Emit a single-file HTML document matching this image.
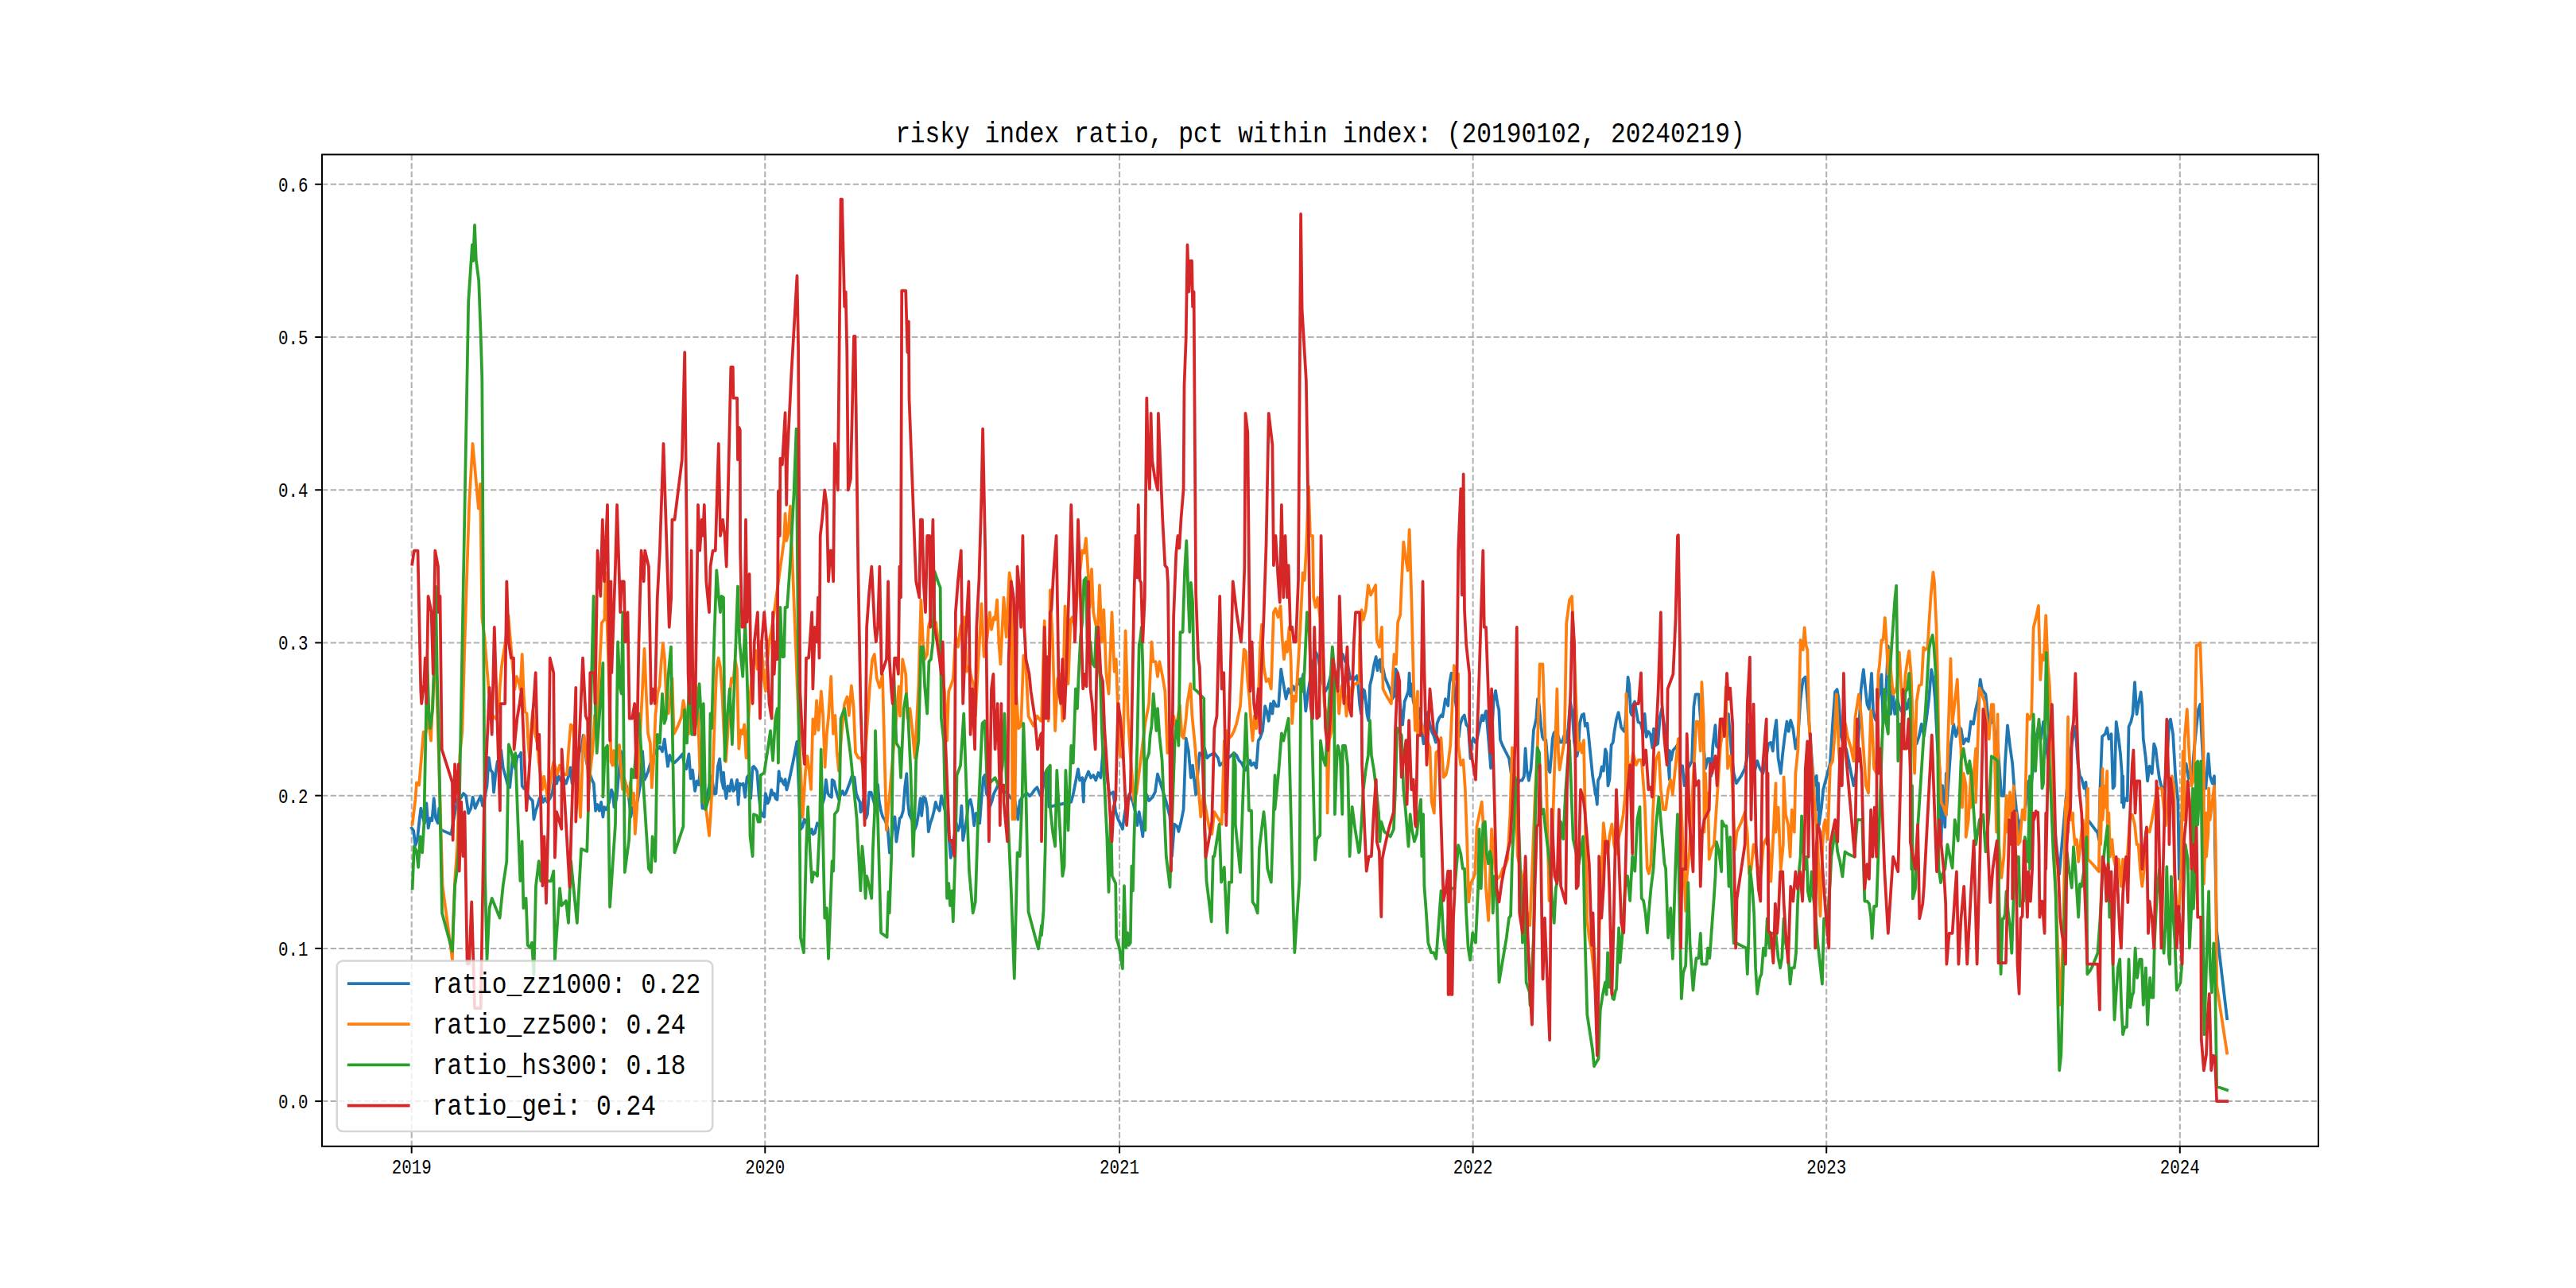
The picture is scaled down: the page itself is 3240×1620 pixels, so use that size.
<!DOCTYPE html><html><head><meta charset="utf-8"><title>risky index ratio</title><style>html,body{margin:0;padding:0;background:#fff;overflow:hidden;width:3240px;height:1620px;}svg{display:block}</style></head><body>
<svg width="3240" height="1620" viewBox="0 0 3240 1620">
<rect x="0" y="0" width="3240" height="1620" fill="#fff"/>
<defs><clipPath id="ax"><rect x="405.0" y="194.4" width="2511.0" height="1247.3999999999999"/></clipPath></defs>
<g stroke="#b0b0b0" stroke-width="2" stroke-dasharray="7.4 3.2" fill="none"><line x1="517.70" y1="194.4" x2="517.70" y2="1441.8"/><line x1="962.27" y1="194.4" x2="962.27" y2="1441.8"/><line x1="1408.07" y1="194.4" x2="1408.07" y2="1441.8"/><line x1="1852.64" y1="194.4" x2="1852.64" y2="1441.8"/><line x1="2297.21" y1="194.4" x2="2297.21" y2="1441.8"/><line x1="2741.79" y1="194.4" x2="2741.79" y2="1441.8"/><line x1="405.0" y1="1385.10" x2="2916.0" y2="1385.10"/><line x1="405.0" y1="1192.88" x2="2916.0" y2="1192.88"/><line x1="405.0" y1="1000.66" x2="2916.0" y2="1000.66"/><line x1="405.0" y1="808.44" x2="2916.0" y2="808.44"/><line x1="405.0" y1="616.22" x2="2916.0" y2="616.22"/><line x1="405.0" y1="424.00" x2="2916.0" y2="424.00"/><line x1="405.0" y1="231.78" x2="2916.0" y2="231.78"/></g>
<g clip-path="url(#ax)" fill="none" stroke-width="3.75" stroke-linejoin="round" stroke-linecap="square">
<polyline stroke="#1f77b4" points="517.8,1041.5 520.1,1044.6 522.4,1063.2 524.8,1057.0 527.1,1035.3 529.4,1016.6 531.7,1027.5 534.1,1035.3 536.4,1010.4 538.7,1041.5 541.1,1029.1 543.4,1032.2 545.7,1004.2 548.0,1029.1 550.7,1035.3 552.2,1016.6 554.3,1043.0 556.6,1044.6 567.5,1049.3 569.8,1035.3 572.1,1022.9 574.4,1012.0 576.8,1001.1 579.1,1004.2 583.0,998.0 586.1,1001.1 589.2,1022.9 592.3,1016.6 594.6,1002.7 597.7,1016.6 601.6,1007.3 604.7,1001.1 607.0,1013.5 609.4,1004.2 612.5,988.7 614.8,953.0 617.1,968.5 619.5,971.6 621.0,996.5 623.4,973.2 625.7,957.6 628.0,967.0 630.3,943.7 632.7,965.4 636.6,979.4 638.9,988.7 641.2,990.2 643.5,967.0 645.1,949.9 646.6,959.2 648.2,967.0 650.5,951.4 652.9,951.4 655.2,946.8 656.7,988.7 659.1,991.8 661.4,987.1 663.7,999.6 666.8,1004.2 669.9,1007.3 671.5,1030.6 673.8,1019.8 676.1,1013.5 678.5,1004.2 680.8,1001.1 683.1,1008.9 685.5,1004.2 688.6,1008.9 691.7,1004.2 694.8,996.5 697.9,974.7 700.2,985.6 702.5,976.3 705.7,982.5 708.8,979.4 711.9,985.6 715.0,976.3 717.3,965.4 719.6,985.6 722.7,976.3 725.8,967.0 728.9,945.2 731.3,943.7 733.6,925.0 735.2,931.2 737.5,957.6 739.8,967.0 742.1,973.2 744.5,980.9 746.8,985.6 749.1,1019.8 751.5,1012.0 753.8,1019.8 756.1,1008.9 758.4,1027.5 760.0,1015.1 762.3,1018.2 764.7,1013.5 766.2,1008.9 769.0,993.4 770.9,998.0 772.4,1015.1 775.5,1004.2 778.6,970.1 781.0,945.2 783.3,973.2 785.6,982.5 788.0,988.7 791.1,1004.2 793.4,1027.5 795.7,1015.1 798.8,1015.1 801.9,1007.3 805.0,988.7 808.1,945.2 810.5,980.9 812.8,976.3 815.1,970.1 817.5,962.3 820.6,953.0 823.7,946.8 826.8,942.1 829.9,939.0 833.0,945.2 835.8,929.7 837.6,945.2 840.0,963.9 842.3,949.9 845.4,957.6 848.5,959.2 851.6,956.1 854.7,953.0 858.6,948.3 860.9,963.9 863.3,967.0 866.4,948.3 868.7,979.4 871.0,968.5 874.1,994.9 876.5,982.5 878.8,987.1 881.1,963.9 883.4,1016.6 885.8,1016.6 888.9,1001.1 892.0,988.7 895.1,976.3 898.2,998.0 900.5,998.0 902.9,963.9 905.2,954.5 907.5,980.9 910.0,991.8 910.0,971.6 911.6,991.8 913.4,1004.2 915.4,988.7 917.8,994.9 920.1,980.9 922.4,994.9 924.8,991.8 927.1,980.9 928.6,1012.0 930.2,985.6 932.5,987.1 934.8,985.6 937.2,1002.7 939.5,977.8 941.8,974.7 944.2,1004.2 946.5,965.4 948.0,963.9 950.4,967.0 952.2,970.1 954.3,998.0 956.6,1019.8 958.9,1026.0 961.2,1027.5 962.8,998.0 964.3,1002.7 965.6,1010.4 967.8,1005.8 970.2,993.4 972.1,999.6 974.0,998.0 975.5,1004.2 977.5,1005.8 979.6,970.1 981.1,982.5 982.7,979.4 984.5,984.0 986.4,987.1 987.6,980.2 989.5,993.4 992.3,982.5 997.0,960.7 1002.4,932.8 1004.7,991.8 1007.0,1043.0 1009.4,1039.9 1011.7,1030.6 1014.0,1033.7 1017.1,1041.5 1019.5,1047.7 1021.0,1043.0 1022.6,1049.3 1024.9,1047.7 1028.0,1035.3 1031.1,1038.4 1034.2,1012.0 1036.6,1004.2 1038.9,980.9 1041.2,998.0 1043.5,1001.1 1045.9,1002.7 1046.6,980.9 1049.0,982.5 1051.3,993.4 1053.6,1001.1 1055.2,1005.8 1057.5,998.0 1059.8,994.9 1061.4,999.6 1063.7,998.0 1066.1,991.8 1068.4,985.6 1071.5,976.3 1074.6,977.8 1076.9,998.0 1079.3,1004.2 1081.6,1008.9 1082.4,1021.3 1083.9,1019.8 1086.2,1004.2 1089.3,1029.1 1090.9,1024.4 1093.2,996.5 1095.6,996.5 1097.9,1004.2 1100.2,1012.0 1102.5,991.8 1104.1,987.1 1105.7,1007.3 1108.0,1019.8 1110.3,1027.5 1113.4,1032.2 1116.5,1041.5 1118.9,1072.5 1121.2,1055.5 1123.5,1035.3 1125.5,1027.5 1127.4,1058.6 1129.7,1043.0 1131.7,1029.1 1133.6,1027.5 1135.9,1019.8 1138.3,988.7 1140.3,973.2 1142.1,1010.4 1143.7,1024.4 1146.0,1029.1 1148.4,1035.3 1150.7,1043.0 1153.0,1036.8 1155.3,1022.9 1157.7,1004.2 1159.2,1026.0 1161.6,1002.7 1163.9,1004.2 1166.2,1016.6 1167.8,1046.1 1170.1,1035.3 1172.4,1029.1 1174.8,1019.8 1176.8,1008.9 1178.6,1015.1 1181.7,1019.8 1184.1,1001.1 1186.4,1010.4 1188.7,1019.8 1191.1,1027.5 1193.4,1050.8 1195.7,1078.8 1198.0,1066.3 1200.4,1050.8 1202.7,1035.3 1205.0,1044.6 1207.4,1038.4 1209.4,1013.5 1211.2,1057.0 1213.6,1043.0 1215.9,1029.1 1218.2,1008.9 1220.6,1005.8 1222.9,1016.6 1225.2,1038.4 1227.5,1022.9 1229.9,1024.4 1232.2,1035.3 1234.5,1004.2 1236.9,977.8 1238.9,974.7 1240.7,998.0 1243.1,1002.7 1245.4,1013.5 1247.7,1007.3 1250.1,998.0 1253.2,991.8 1256.3,985.6 1259.4,988.7 1262.5,994.9 1267.1,998.0 1271.8,1004.2 1276.5,1007.3 1280.3,1030.6 1282.7,1007.3 1285.8,1002.7 1288.9,999.6 1292.0,998.0 1295.1,1001.1 1298.2,998.0 1301.3,993.4 1304.4,990.2 1307.5,998.0 1310.0,1002.7 1314.7,972.0 1317.8,967.3 1319.3,1014.8 1347.3,1008.6 1350.4,996.2 1356.0,967.3 1358.1,981.3 1361.2,978.2 1362.8,1008.6 1363.4,984.4 1369.0,970.4 1372.1,978.2 1375.2,975.1 1378.3,981.3 1381.4,972.0 1384.5,978.2 1387.6,942.5 1395.4,999.3 1400.1,996.2 1403.2,1021.1 1406.3,1030.4 1409.4,1036.6 1411.9,1042.8 1414.0,1027.3 1417.1,1008.6 1420.2,999.3 1424.9,1008.6 1428.0,1021.1 1430.5,1038.1 1432.7,1021.1 1434.2,1030.4 1437.3,1052.1 1439.8,1014.8 1442.0,999.3 1445.1,1007.1 1449.8,1002.4 1452.9,996.2 1456.0,973.5 1466.8,1008.6 1471.5,1027.3 1474.0,1077.0 1477.1,1036.6 1480.8,1039.7 1482.4,1045.9 1485.5,1033.5 1488.6,1018.0 1491.7,928.5 1494.8,944.0 1497.9,978.2 1500.1,962.7 1504.1,999.3 1508.8,947.1 1511.9,950.2 1515.0,940.9 1518.1,953.4 1521.2,950.2 1527.4,947.1 1532.0,953.4 1534.2,962.7 1552.2,947.1 1555.3,950.2 1558.4,956.5 1561.6,959.6 1566.2,968.9 1569.3,962.7 1572.4,956.5 1574.0,962.7 1577.1,959.6 1580.2,965.8 1582.7,931.6 1584.8,928.5 1588.0,919.2 1591.1,888.1 1593.2,894.3 1595.7,906.8 1598.2,885.0 1600.4,897.5 1601.9,881.9 1605.0,888.1 1608.1,888.1 1611.2,841.6 1614.3,860.2 1617.5,878.8 1620.6,866.4 1623.7,872.6 1626.8,863.3 1629.9,869.5 1633.0,854.0 1636.1,863.3 1639.2,847.8 1642.3,894.3 1645.4,869.5 1648.5,850.9 1651.6,832.2 1654.7,819.8 1657.8,826.0 1660.9,844.7 1664.0,860.2 1667.1,869.5 1670.2,863.3 1673.4,850.9 1676.5,841.6 1679.6,854.0 1682.7,847.8 1685.8,826.0 1688.9,822.9 1692.0,832.2 1695.1,835.3 1698.2,854.0 1701.3,850.9 1702.6,855.2 1705.1,851.7 1706.8,850.0 1708.5,865.4 1710.2,885.9 1712.0,897.9 1714.5,867.1 1716.2,868.8 1717.9,882.5 1719.6,899.6 1721.4,906.4 1723.1,862.0 1725.6,851.7 1728.2,836.4 1730.7,826.1 1732.5,843.2 1734.2,831.2 1735.9,829.5 1737.2,844.9 1739.3,839.8 1741.8,851.7 1745.3,860.3 1748.7,868.8 1751.2,879.1 1753.3,875.7 1755.5,841.5 1757.2,844.9 1758.9,865.4 1761.5,891.0 1764.1,911.5 1766.6,882.5 1769.2,875.7 1771.4,868.8 1772.6,846.6 1773.8,875.7 1775.2,860.3 1777.7,882.5 1780.3,891.0 1782.8,913.2 1784.5,899.6 1786.3,891.0 1788.0,916.6 1790.5,935.4 1793.1,903.0 1795.7,896.1 1798.2,909.8 1800.8,920.1 1803.3,925.2 1805.9,933.7 1807.6,909.8 1810.2,903.0 1812.7,899.6 1814.4,901.3 1816.1,891.0 1817.9,879.1 1819.6,882.5 1821.3,887.6 1823.0,860.3 1825.5,846.6 1828.1,856.9 1830.7,882.5 1833.2,899.6 1834.9,926.9 1836.6,911.5 1839.2,903.0 1841.8,899.6 1844.3,911.5 1846.9,914.9 1849.5,954.2 1851.2,933.7 1852.9,928.6 1855.4,933.7 1858.0,928.6 1861.4,911.5 1864.0,899.6 1865.7,906.4 1867.4,899.6 1869.1,894.4 1870.8,913.2 1872.5,933.7 1875.1,966.2 1876.8,916.6 1878.5,882.5 1881.1,868.8 1883.6,885.9 1885.3,892.7 1887.0,930.3 1889.6,937.1 1893.0,944.0 1895.6,949.1 1898.1,954.2 1900.7,973.0 1903.3,993.5 1905.8,1000.0 1908.4,988.4 1910.9,981.6 1914.4,981.6 1916.9,976.4 1918.6,941.4 1920.3,967.9 1922.9,981.6 1925.5,967.9 1927.2,945.7 1928.9,918.4 1930.6,911.5 1932.3,903.0 1934.0,879.1 1935.7,885.9 1938.3,913.2 1940.0,926.9 1941.7,930.3 1944.3,930.3 1946.0,950.8 1947.7,967.9 1949.4,971.3 1951.1,950.8 1952.8,928.6 1954.5,921.8 1956.2,920.1 1957.9,930.3 1959.6,925.2 1962.2,933.7 1964.8,933.7 1967.3,925.2 1969.9,933.7 1972.4,916.6 1975.0,882.5 1977.6,896.1 1980.1,933.7 1983.5,950.8 1985.2,942.3 1987.0,909.8 1989.5,899.6 1992.1,897.9 1993.8,913.2 1996.4,909.8 1998.1,925.2 2000.6,950.8 2003.2,976.4 2005.7,991.8 2006.6,999.4 2007.5,1000.0 2008.8,1011.8 2010.0,981.6 2012.6,976.4 2014.6,964.5 2016.8,969.6 2019.1,942.3 2020.8,947.4 2022.5,988.4 2024.5,979.8 2026.6,937.1 2028.8,933.7 2030.5,920.1 2033.1,904.7 2035.6,896.1 2037.3,904.7 2039.1,914.9 2041.6,918.4 2043.3,920.1 2045.0,899.6 2047.6,851.7 2049.3,862.0 2051.0,896.1 2052.7,899.6 2054.4,885.9 2056.1,882.5 2057.8,892.7 2060.4,908.1 2063.8,909.8 2066.4,921.8 2068.6,897.9 2070.7,926.9 2073.2,920.1 2075.8,923.5 2078.3,940.6 2080.0,916.6 2082.6,937.1 2085.2,935.4 2087.7,903.0 2090.3,891.0 2092.9,909.8 2096.3,933.7 2099.8,980.7 2100.0,944.0 2101.9,955.9 2104.4,943.5 2107.5,940.4 2110.9,935.4 2114.0,966.5 2116.1,963.4 2118.6,988.2 2123.3,966.5 2128.0,957.1 2130.4,888.8 2132.6,873.3 2136.6,873.3 2138.8,904.3 2141.9,926.1 2145.0,966.5 2148.1,954.0 2150.3,954.0 2152.2,975.8 2154.3,938.5 2157.5,912.1 2159.0,938.5 2162.1,941.6 2166.8,923.0 2169.9,910.6 2173.9,898.1 2177.6,944.7 2180.7,972.7 2183.9,985.1 2190.1,975.8 2194.7,966.5 2197.8,950.9 2200.9,910.6 2204.0,963.4 2207.1,969.6 2210.2,957.1 2213.4,966.5 2217.4,972.7 2221.1,957.1 2224.2,935.4 2227.3,933.9 2229.8,944.7 2232.0,919.9 2234.2,905.9 2236.6,954.0 2239.8,972.7 2242.2,947.8 2244.4,929.2 2247.5,907.5 2249.7,919.9 2252.2,905.9 2255.3,916.8 2258.4,941.6 2261.5,926.1 2264.6,879.5 2267.7,854.7 2270.8,851.6 2273.3,879.5 2275.5,910.6 2278.6,950.9 2281.7,988.2 2284.8,975.8 2286.3,1018.6 2287.0,985.1 2287.9,1037.3 2291.0,1015.5 2293.2,992.9 2301.9,960.2 2305.0,910.6 2308.1,870.2 2310.6,867.1 2312.7,879.5 2315.8,926.1 2318.9,938.5 2322.0,941.6 2325.2,957.1 2328.3,972.7 2331.4,988.2 2334.5,972.7 2337.6,926.1 2340.7,867.1 2343.8,842.2 2346.0,864.0 2348.4,885.7 2350.9,891.9 2354.0,846.9 2356.2,898.1 2359.3,905.9 2362.4,879.5 2364.0,870.2 2366.5,848.4 2368.6,910.6 2371.7,879.5 2374.8,812.7 2376.4,829.8 2378.0,898.1 2381.1,873.3 2383.2,898.1 2386.3,879.5 2388.8,888.8 2391.9,895.0 2395.0,879.5 2398.1,891.9 2401.2,879.5 2404.3,910.6 2407.5,926.1 2410.6,935.4 2413.7,926.1 2416.8,910.6 2419.9,926.1 2423.0,904.3 2426.1,879.5 2429.2,842.2 2431.7,854.7 2433.9,879.5 2437.0,941.6 2440.1,972.7 2441.6,1059.0 2443.2,988.2 2446.3,1040.4 2447.8,972.7 2447.8,1024.8 2454.0,935.4 2457.1,910.6 2460.2,926.1 2463.4,913.7 2466.5,916.8 2469.6,935.4 2472.7,929.2 2475.8,932.3 2478.9,907.5 2482.0,910.6 2485.1,891.9 2488.2,879.5 2490.7,854.7 2492.9,867.1 2497.5,873.3 2501.1,907.8 2503.3,910.9 2506.4,901.6 2509.5,923.3 2512.6,935.7 2515.7,979.2 2517.3,1000.9 2520.4,1000.9 2521.9,960.6 2525.0,912.4 2528.1,938.8 2531.2,960.6 2533.4,991.6 2535.9,1016.5 2539.0,1038.2 2539.6,1055.9 2542.1,1031.1 2545.2,1028.9 2548.3,1010.2 2551.4,982.3 2554.5,991.6 2557.6,960.6 2560.7,929.5 2563.9,914.0 2567.0,929.5 2570.1,907.8 2573.2,929.5 2576.3,960.6 2579.4,991.6 2582.5,1022.7 2590.2,1099.4 2593.4,1062.1 2598.0,1010.2 2602.7,960.6 2605.8,935.7 2608.0,923.3 2610.4,914.0 2613.5,960.6 2616.0,976.1 2618.2,979.2 2621.3,991.6 2623.5,983.9 2626.0,1022.7 2626.0,1031.1 2629.1,1035.1 2633.7,1041.3 2638.4,1047.5 2639.9,1055.9 2641.5,991.6 2644.0,926.4 2647.7,923.3 2650.2,915.5 2652.4,929.5 2655.5,923.3 2657.6,991.6 2659.5,988.5 2661.7,907.8 2664.8,929.5 2667.0,948.1 2668.8,973.0 2668.8,1009.3 2670.1,976.1 2671.0,1015.5 2672.5,1004.0 2675.7,1007.1 2677.5,914.0 2680.3,907.8 2682.5,898.4 2685.0,858.1 2687.5,898.4 2689.6,886.0 2692.7,870.5 2694.3,886.0 2695.8,929.5 2698.9,954.3 2701.1,982.3 2703.6,963.7 2706.7,973.0 2709.2,935.7 2711.4,941.9 2713.5,960.6 2716.0,979.2 2719.1,991.6 2722.2,991.6 2725.3,960.6 2728.4,907.8 2730.0,904.7 2733.1,923.3 2736.2,976.1 2739.3,1007.1 2740.9,1105.6 2744.0,1031.1 2747.1,973.0 2749.6,960.6 2752.7,979.2 2754.8,969.9 2757.0,979.2 2759.5,945.0 2762.6,914.0 2765.1,892.2 2767.3,886.0 2769.4,929.5 2771.9,976.1 2774.4,991.6 2777.5,948.1 2779.7,976.1 2782.8,985.4 2785.0,976.1 2785.9,1062.1 2788.1,1170.8 2801.1,1281.1"/>
<polyline stroke="#ff7f0e" points="518.7,1036.6 522.4,1005.5 524.0,984.4 527.1,987.5 532.7,920.7 534.8,925.4 538.6,903.7 542.0,931.6 545.1,860.2 547.3,822.9 548.8,854.0 550.4,900.6 556.6,1114.2 569.0,1207.4 569.9,1163.9 572.1,1108.0 575.2,1064.5 578.3,950.2 581.4,919.2 584.5,807.4 590.1,633.5 594.5,558.0 601.9,639.7 604.1,608.6 606.3,776.3 609.4,801.2 614.8,869.5 619.5,899.8 624.1,904.4 627.6,888.1 628.8,862.5 631.1,836.9 635.8,806.6 639.3,774.0 643.9,827.5 647.4,867.1 649.8,850.8 652.5,857.8 654.4,867.1 656.7,822.9 658.6,871.8 660.2,895.1 662.6,897.4 663.7,923.0 664.9,941.7 666.1,953.3 668.4,911.4 670.2,892.8 673.0,923.0 675.8,934.7 677.7,958.0 682.4,992.9 684.2,976.6 687.0,992.9 689.3,1006.9 691.7,988.3 694.0,969.6 696.3,958.0 698.7,965.0 701.0,974.3 703.8,962.6 706.8,969.6 710.3,974.3 713.1,974.3 715.4,939.3 717.8,911.4 720.8,913.7 722.4,934.7 724.3,958.0 726.6,941.7 727.8,992.9 730.1,1027.9 733.1,939.3 734.8,925.4 737.1,946.3 739.4,969.6 740.6,992.9 742.9,965.0 745.2,946.3 748.0,899.8 751.1,923.0 752.7,864.8 754.6,829.9 756.9,783.3 760.4,778.6 761.6,720.4 767.4,899.8 768.5,958.0 770.4,962.6 772.0,944.0 774.4,965.0 776.7,951.0 779.0,937.0 780.7,962.6 783.0,992.9 786.0,981.3 788.3,992.9 790.7,1002.2 793.0,983.6 795.3,1011.6 797.0,997.6 798.8,1048.8 801.1,1016.2 803.9,946.3 807.0,888.1 810.5,815.9 812.8,871.8 815.1,923.0 817.9,934.7 819.8,990.6 822.1,958.0 824.4,899.8 827.2,871.8 829.6,862.5 831.9,829.9 833.8,808.9 836.1,829.9 838.4,890.4 840.7,897.4 843.1,876.5 845.4,853.2 847.7,923.0 852.4,913.7 857.0,902.1 859.4,881.1 861.7,892.8 864.0,911.4 866.4,923.0 869.9,890.4 873.4,857.8 875.7,864.8 878.0,899.8 880.3,969.6 882.7,992.9 885.0,1004.6 888.5,1020.9 892.0,1051.1 894.3,1016.2 896.6,969.6 899.0,899.8 901.3,841.5 903.6,827.5 906.0,839.2 908.3,871.8 910.6,923.0 913.0,958.0 915.3,923.0 917.6,881.1 919.9,853.2 922.3,857.8 924.6,829.9 926.9,841.5 929.3,941.7 931.6,918.4 933.9,923.0 936.2,911.4 938.6,953.3 940.9,911.4 943.2,876.5 945.6,853.2 947.9,829.9 950.2,818.2 952.5,841.5 954.9,829.9 957.2,806.6 960.7,853.2 963.0,869.5 965.4,829.9 967.7,806.6 970.0,794.9 973.5,771.6 981.4,714.2 986.1,680.1 987.6,645.9 989.2,680.1 991.4,670.7 993.9,636.6 1006.1,946.3 1009.6,1027.9 1013.1,969.6 1015.4,951.0 1017.8,969.6 1020.1,992.9 1022.4,904.4 1024.8,923.0 1027.1,881.1 1029.4,918.4 1032.9,869.5 1035.2,899.8 1037.6,965.0 1039.9,923.0 1042.2,899.8 1045.2,850.8 1048.0,923.0 1050.4,899.8 1052.7,946.3 1055.0,969.6 1058.5,923.0 1062.0,885.8 1065.5,876.5 1067.8,899.8 1070.9,862.5 1073.7,890.4 1076.0,946.3 1079.5,953.3 1083.0,953.3 1086.5,969.6 1090.0,923.0 1093.5,869.5 1097.0,829.9 1099.8,822.9 1102.8,853.2 1106.3,864.8 1110.0,848.5 1115.0,1044.3 1127.4,900.6 1130.5,863.3 1132.0,900.6 1135.2,829.1 1139.2,847.8 1141.4,903.7 1144.5,891.2 1147.6,919.2 1150.7,953.4 1155.3,863.3 1158.4,754.6 1160.9,807.4 1163.1,829.1 1166.2,822.9 1167.8,788.8 1170.2,779.4 1173.4,782.5 1177.1,782.5 1180.2,807.4 1183.3,838.4 1188.0,869.5 1191.1,931.6 1193.2,869.5 1195.7,863.3 1198.8,854.0 1201.9,801.2 1205.0,813.6 1208.1,788.8 1212.8,776.3 1215.9,844.7 1219.0,838.4 1222.1,854.0 1224.3,860.2 1226.8,900.6 1231.4,816.7 1234.5,759.3 1237.6,826.0 1241.7,801.2 1244.8,770.1 1247.0,791.9 1250.1,776.3 1251.6,779.4 1254.1,754.6 1256.3,807.4 1258.4,835.3 1262.5,751.5 1265.6,801.2 1269.6,720.4 1271.8,732.9 1273.4,1030.4 1274.9,776.3 1276.5,1030.4 1278.0,869.5 1281.1,916.1 1284.2,913.0 1287.3,824.5 1290.4,838.4 1293.5,900.6 1296.6,906.8 1299.8,913.0 1304.4,900.6 1309.1,906.8 1310.0,906.8 1313.7,781.0 1316.2,857.1 1318.7,906.8 1320.9,742.2 1324.0,807.4 1327.1,919.2 1330.2,854.0 1333.3,847.8 1336.4,906.8 1339.5,762.4 1343.5,860.2 1346.6,779.4 1348.8,776.3 1351.9,788.8 1355.0,745.3 1358.1,720.4 1361.2,692.5 1363.4,695.6 1365.9,677.0 1369.0,726.6 1370.6,763.9 1373.0,715.8 1375.2,770.1 1378.3,785.7 1380.8,791.9 1383.0,736.0 1386.1,807.4 1388.3,767.0 1391.4,847.8 1394.5,872.6 1398.5,770.1 1401.6,844.7 1403.8,829.1 1406.3,900.6 1408.8,950.2 1412.5,953.4 1415.6,793.4 1418.7,900.6 1421.8,950.2 1426.5,1008.6 1429.6,996.2 1440.4,909.9 1445.1,885.0 1448.5,807.4 1450.4,832.2 1453.5,832.2 1456.0,850.9 1458.4,832.2 1462.2,850.9 1465.3,869.5 1468.4,947.1 1471.5,931.6 1476.1,900.6 1479.3,916.1 1483.9,886.6 1486.4,925.4 1488.6,928.5 1491.7,903.7 1493.2,885.0 1497.3,860.2 1499.4,900.6 1502.5,931.6 1510.3,1027.3 1513.4,999.3 1521.2,1042.8 1524.3,1049.0 1527.4,1021.1 1536.7,1036.6 1539.8,931.6 1539.8,1021.1 1543.5,919.2 1546.0,928.5 1549.1,925.4 1552.2,919.2 1555.3,909.9 1560.0,888.1 1562.2,854.0 1564.7,816.7 1567.1,819.8 1569.3,857.1 1571.5,878.8 1574.0,916.1 1575.5,931.6 1577.7,900.6 1580.2,916.1 1582.7,881.9 1584.8,816.7 1587.0,785.7 1589.5,838.4 1592.6,857.1 1595.7,854.0 1598.8,866.4 1601.9,770.1 1604.4,765.5 1607.5,776.3 1610.6,762.4 1612.8,804.3 1615.0,829.1 1617.5,807.4 1619.0,819.8 1621.5,788.8 1623.7,832.2 1625.2,909.9 1627.4,875.7 1629.9,881.9 1633.0,832.2 1636.1,776.3 1638.6,720.4 1640.7,729.8 1642.9,692.5 1646.0,611.7 1647.9,673.9 1651.0,673.9 1652.2,751.5 1654.7,763.9 1657.2,751.5 1660.3,776.3 1662.5,822.9 1665.6,885.0 1668.7,900.6 1669.6,1022.6 1671.8,931.6 1674.9,919.2 1678.0,854.0 1681.1,850.9 1684.2,897.5 1687.3,863.3 1690.4,857.1 1693.5,900.6 1696.6,863.3 1699.8,878.8 1702.9,860.2 1706.0,860.2 1710.0,857.1 1710.0,810.6 1712.5,767.1 1714.7,779.5 1717.8,767.1 1720.9,736.0 1724.0,748.4 1727.1,742.2 1730.2,736.0 1731.7,804.3 1734.8,813.7 1738.0,788.8 1739.5,866.5 1744.2,875.8 1749.8,885.1 1753.5,823.0 1756.0,835.4 1758.1,782.6 1761.2,773.3 1762.8,736.0 1765.3,681.7 1767.5,698.8 1770.6,717.4 1772.7,666.1 1775.2,748.4 1778.3,872.7 1779.9,918.6 1783.0,869.6 1783.0,924.8 1786.1,906.2 1798.5,940.4 1800.7,1008.7 1803.8,1022.7 1806.3,946.6 1809.4,943.5 1812.5,928.0 1815.6,977.6 1818.7,974.5 1821.2,962.1 1824.3,937.3 1828.9,837.0 1831.1,854.0 1834.2,847.8 1834.2,937.3 1837.3,962.1 1840.4,955.9 1842.9,993.2 1845.1,1055.3 1847.3,1134.5 1849.8,1111.2 1852.9,1105.0 1855.3,1098.8 1857.5,1039.8 1863.7,1008.7 1866.8,1055.3 1869.0,1117.4 1872.1,1157.8 1874.6,1086.3 1876.1,1042.9 1879.3,1080.1 1881.4,1098.8 1883.9,1105.0 1887.0,1101.9 1890.1,1092.5 1893.2,1089.4 1896.3,1080.1 1899.4,1024.2 1901.9,940.4 1904.1,949.7 1906.3,993.2 1908.8,1077.0 1915.0,1105.0 1916.5,1117.4 1918.1,1179.5 1921.2,1148.4 1924.3,1164.0 1927.4,1086.3 1931.1,993.2 1933.6,946.6 1936.7,835.4 1940.4,835.4 1944.5,962.1 1948.5,1132.9 1951.6,1086.3 1955.3,962.1 1958.4,866.5 1960.0,946.6 1961.6,968.3 1967.8,931.1 1970.2,784.2 1974.0,754.7 1977.1,750.0 1984.8,943.5 1987.0,934.2 1989.5,946.6 1992.0,931.1 1994.2,1049.1 1996.3,1157.8 1998.8,1179.5 2001.9,1195.0 2005.0,1226.1 2008.1,1263.4 2011.2,1179.5 2014.3,1101.9 2016.8,1035.1 2019.0,1055.3 2022.1,1073.9 2024.3,1052.2 2027.4,1036.6 2029.9,1061.5 2033.0,1073.9 2035.5,1055.3 2038.6,1042.9 2041.7,1024.2 2044.8,993.2 2045.4,872.7 2047.9,977.6 2051.0,968.3 2054.1,946.6 2057.8,962.1 2060.9,955.9 2064.7,955.9 2068.7,1008.7 2071.8,1092.5 2074.0,1098.8 2076.5,1086.3 2079.6,1008.7 2082.7,955.9 2086.4,946.6 2088.9,993.2 2092.0,1018.0 2095.1,1018.0 2098.2,993.2 2101.3,980.7 2103.8,999.4 2107.5,962.1 2110.9,929.2 2120.2,1146.0 2121.7,1102.5 2124.8,1071.4 2133.5,907.5 2136.6,907.5 2138.8,944.7 2140.4,857.8 2142.9,910.6 2143.5,1046.6 2145.0,972.7 2146.6,1021.7 2148.1,997.5 2149.7,1080.7 2152.8,1068.3 2155.9,1062.1 2163.7,941.6 2166.8,910.6 2168.9,910.6 2170.8,864.0 2173.0,966.5 2176.1,950.9 2178.3,972.7 2182.3,1068.3 2184.5,1046.6 2190.1,1034.2 2194.7,1021.7 2197.8,1049.7 2200.0,1099.4 2202.5,1093.2 2205.6,1062.1 2208.7,1074.5 2210.2,1087.0 2212.4,1096.3 2214.9,1099.4 2218.0,1062.1 2221.7,1054.3 2224.2,1055.9 2227.3,1108.7 2230.4,1049.7 2233.5,985.1 2233.5,1046.6 2236.6,1015.5 2239.8,1093.2 2242.9,1062.1 2243.5,977.3 2246.0,1024.8 2249.1,1037.3 2251.6,1077.6 2253.7,1018.6 2256.8,1046.6 2258.4,972.7 2261.5,941.6 2264.6,805.0 2267.7,817.4 2269.6,789.4 2271.4,811.2 2273.3,817.4 2275.5,910.6 2278.6,957.1 2286.3,1062.1 2289.4,1152.2 2292.5,1062.1 2294.1,1037.3 2295.7,1031.1 2298.8,1055.9 2301.9,963.4 2305.0,957.1 2307.5,926.1 2309.9,873.3 2312.7,941.6 2315.8,988.2 2318.9,926.1 2321.1,910.6 2323.6,926.1 2328.3,941.6 2331.4,957.1 2333.5,901.2 2336.0,885.7 2337.9,873.3 2340.7,898.1 2343.8,941.6 2346.9,988.2 2350.0,997.5 2353.1,893.5 2354.7,910.6 2357.1,966.5 2360.2,972.7 2362.4,848.4 2364.0,836.0 2366.5,805.0 2368.6,805.0 2370.8,777.0 2372.7,805.0 2374.8,848.4 2376.4,817.4 2378.6,848.4 2381.1,873.3 2383.2,870.2 2385.7,864.0 2388.8,820.5 2391.3,864.0 2393.5,898.1 2396.6,848.4 2398.8,832.9 2401.2,818.9 2403.7,848.4 2405.9,910.6 2408.1,972.7 2410.6,882.6 2413.7,862.4 2416.8,860.9 2419.3,814.3 2421.4,817.4 2424.5,814.3 2426.1,786.3 2428.6,749.1 2431.4,719.6 2432.9,730.4 2435.4,786.3 2437.0,848.4 2438.5,941.6 2441.6,1009.3 2444.7,1015.5 2447.8,1024.8 2450.3,926.1 2453.4,828.3 2455.6,910.6 2458.7,882.6 2461.8,854.7 2464.0,910.6 2466.5,941.6 2468.0,1015.5 2469.6,972.7 2472.7,988.2 2472.7,1052.8 2475.8,1031.1 2478.9,972.7 2478.9,1015.5 2485.1,941.6 2485.1,1009.3 2489.8,865.5 2492.9,873.3 2496.0,882.6 2499.1,910.6 2501.7,929.5 2504.8,886.0 2507.3,886.0 2511.1,1046.6 2512.6,898.4 2514.2,1062.1 2517.3,1104.0 2520.4,1077.6 2523.5,1000.9 2523.5,1046.6 2526.6,1015.5 2528.1,996.3 2529.7,1031.1 2530.3,1022.7 2531.2,1018.6 2532.8,988.5 2533.4,1046.6 2535.9,1022.7 2535.9,1031.1 2538.4,1062.1 2540.6,1059.0 2543.7,1018.6 2546.8,1031.1 2549.9,898.4 2553.0,904.7 2555.2,898.4 2557.6,789.8 2561.4,774.2 2563.9,761.8 2566.3,855.0 2568.5,823.9 2570.7,830.1 2573.2,774.2 2575.7,836.3 2577.8,861.2 2579.4,898.4 2582.5,991.6 2582.5,1031.1 2585.6,1124.2 2588.7,1201.9 2591.2,1264.0 2593.4,1217.4 2595.5,1155.3 2598.0,1007.1 2598.0,1093.2 2601.1,901.6 2601.1,1046.6 2603.6,960.6 2604.2,1031.1 2607.3,1022.7 2607.3,1034.2 2609.8,1062.1 2612.0,1055.9 2614.2,1083.9 2616.6,1062.1 2619.8,1031.1 2622.9,1062.1 2626.0,991.6 2626.0,1080.7 2632.2,1087.0 2639.9,1096.3 2641.5,991.6 2642.1,1062.1 2644.6,966.8 2644.6,1031.1 2647.7,988.5 2647.7,1015.5 2650.2,969.9 2650.8,1046.6 2652.4,1022.7 2653.9,1077.6 2656.4,1055.9 2658.6,1080.7 2661.7,1093.2 2664.8,1080.7 2667.9,1114.9 2670.1,1080.7 2672.5,1093.2 2675.7,1077.6 2678.8,1031.1 2681.9,1024.8 2685.0,1037.3 2687.5,1062.1 2689.6,1062.1 2691.8,1093.2 2694.3,1114.9 2696.8,1093.2 2698.9,1046.6 2701.1,1043.5 2703.6,1046.6 2706.7,1031.1 2709.8,1013.4 2712.9,991.6 2719.1,991.6 2723.8,1038.2 2728.4,991.6 2731.6,976.1 2734.7,991.6 2734.7,1093.2 2737.8,1139.8 2740.9,1142.9 2743.4,1093.2 2745.5,945.0 2747.1,1031.1 2747.7,929.5 2750.8,892.2 2753.3,945.0 2756.4,988.5 2759.5,979.2 2762.6,811.5 2765.1,811.5 2767.3,808.4 2769.4,867.4 2771.9,960.6 2771.9,1111.8 2775.0,1022.7 2775.0,1077.6 2777.5,1046.6 2778.1,991.6 2779.7,1031.1 2785.0,988.5 2786.8,1062.1 2788.1,1239.1 2801.1,1324.5"/>
<polyline stroke="#2ca02c" points="518.7,1117.3 520.9,1064.5 524.0,1070.7 526.1,1090.9 528.6,1052.1 531.1,1072.3 533.3,1036.6 537.3,826.0 539.5,900.6 541.1,916.1 544.2,891.2 545.7,847.8 547.9,737.5 549.8,847.8 551.9,931.6 556.0,1148.4 569.0,1196.5 572.1,1114.2 575.2,1092.5 576.8,1067.6 589.2,379.4 593.9,308.0 595.1,328.2 597.0,283.2 598.8,326.6 602.2,353.0 604.7,422.9 606.3,475.7 610.0,1098.7 612.5,1207.4 615.6,1142.2 618.7,1129.8 628.6,1154.6 632.7,1114.2 637.3,1083.2 639.8,936.3 643.5,947.1 646.0,962.7 648.2,947.1 651.3,1030.4 654.4,1108.0 656.6,1058.3 658.4,1142.2 661.6,1129.8 663.7,1188.8 666.8,1191.9 669.0,1185.7 671.5,1226.0 674.0,1114.2 677.7,1083.2 680.2,1108.0 693.2,1108.0 696.3,1095.6 697.9,1207.4 704.1,1117.3 706.3,1139.1 711.9,1132.9 715.0,1160.8 718.1,1083.2 725.8,1160.8 731.1,1067.6 738.3,1070.7 739.8,1021.1 746.6,749.9 749.1,900.6 750.7,947.1 758.4,833.8 758.4,1002.4 760.9,942.5 764.0,937.8 767.1,1140.6 774.0,1036.6 777.1,807.4 779.6,863.3 781.7,872.6 783.3,770.1 785.8,1097.1 791.1,1056.8 794.2,967.3 797.3,978.2 803.5,897.5 815.9,1092.5 819.0,1097.1 820.6,1052.1 824.3,1083.2 826.8,923.9 829.9,934.7 833.0,872.6 835.5,909.9 837.6,903.7 840.7,847.8 843.9,813.6 848.5,1072.3 859.4,1039.7 860.9,892.8 864.0,934.7 867.1,847.8 870.2,923.9 873.4,923.9 876.5,900.6 879.6,860.2 882.7,916.1 882.7,1008.6 884.8,885.0 887.3,1018.0 892.0,1002.4 893.5,897.5 895.1,916.1 898.2,807.4 901.3,717.3 903.8,749.9 906.0,770.1 907.5,749.9 910.0,751.5 911.6,956.5 914.7,900.6 917.8,866.4 920.9,936.3 925.5,807.4 928.0,737.5 930.2,807.4 934.2,850.9 937.3,782.5 939.5,847.8 941.1,900.6 943.5,1052.1 946.6,1077.0 947.9,1024.2 951.9,1025.7 953.5,1033.5 956.0,1033.5 956.6,975.1 961.2,972.0 965.9,940.9 969.0,919.2 972.1,956.5 975.2,903.7 977.7,891.2 978.9,959.6 981.4,763.9 983.9,826.0 986.1,826.0 987.6,763.9 990.1,763.9 993.9,708.0 998.5,621.1 1001.6,539.4 1006.9,1179.4 1010.9,1198.1 1014.0,1067.6 1016.2,1014.8 1018.7,1067.6 1021.2,1109.6 1023.4,1097.1 1025.5,1098.7 1028.0,1101.8 1031.1,1036.6 1032.7,942.5 1037.3,1154.6 1039.8,1142.2 1042.0,1205.8 1046.6,1083.2 1048.2,1095.6 1049.8,1024.2 1053.5,1019.5 1056.0,1005.5 1057.5,903.7 1062.2,891.2 1069.9,950.2 1077.7,1030.4 1082.4,1120.4 1084.5,1064.5 1087.0,1092.5 1088.6,1129.8 1090.1,1101.8 1093.2,1114.2 1096.3,1129.8 1097.9,1067.6 1100.1,1021.1 1101.0,919.2 1108.1,1173.2 1115.6,1178.8 1117.5,1122.0 1118.7,1148.4 1121.2,1077.0 1124.3,847.8 1127.4,934.7 1131.1,940.9 1133.0,978.2 1136.7,891.2 1139.8,872.6 1142.3,903.7 1145.4,968.9 1148.5,1077.0 1150.7,1021.1 1152.2,956.5 1155.3,931.6 1158.4,813.6 1160.9,813.6 1163.1,863.3 1166.2,897.5 1168.4,832.2 1170.9,829.1 1173.4,807.4 1175.5,718.9 1180.2,732.9 1182.7,739.1 1183.9,903.7 1187.0,931.6 1191.1,1129.8 1193.2,1111.1 1195.1,1139.1 1197.3,1120.4 1198.8,1159.3 1201.9,1061.4 1203.5,975.1 1208.1,962.7 1212.2,897.5 1219.0,1095.6 1223.7,1148.4 1226.8,1134.4 1229.9,1036.6 1235.5,909.9 1238.6,906.8 1241.7,987.5 1245.4,984.4 1251.6,978.2 1256.3,989.1 1260.9,962.7 1263.4,897.5 1265.6,978.2 1271.8,1120.4 1275.8,1230.7 1279.6,1072.3 1282.7,1077.0 1285.8,996.2 1287.3,909.9 1290.4,996.2 1293.5,1146.8 1306.0,1193.4 1310.0,1163.9 1310.0,1176.3 1312.5,1145.3 1314.7,1067.6 1316.2,968.9 1320.9,962.7 1320.9,1014.8 1324.0,1045.9 1327.1,1064.5 1329.3,968.9 1331.7,1014.8 1336.4,1101.8 1338.6,1089.4 1339.5,1021.1 1340.4,968.9 1343.5,1044.3 1347.3,937.8 1349.8,959.6 1352.9,866.4 1355.0,891.2 1356.6,850.9 1359.1,801.2 1361.2,782.5 1363.4,729.8 1365.9,726.6 1367.5,804.3 1369.6,807.4 1371.5,807.4 1373.7,833.8 1376.8,838.4 1378.9,788.8 1381.4,832.2 1383.9,854.0 1386.1,922.3 1392.3,1052.1 1394.5,1122.0 1397.0,1021.1 1398.8,1101.8 1403.2,1111.1 1404.1,1179.4 1407.8,1191.9 1411.9,1218.3 1414.0,1114.2 1416.2,1191.9 1418.1,1173.2 1419.6,1188.8 1421.8,1185.7 1423.4,1089.4 1424.9,1120.4 1426.5,1052.1 1430.5,931.6 1432.7,810.5 1434.2,804.3 1435.8,788.8 1437.3,838.4 1440.4,1044.3 1442.0,956.5 1445.1,947.1 1446.6,925.4 1448.5,913.0 1450.7,872.6 1452.9,900.6 1454.4,919.2 1456.0,891.2 1458.4,925.4 1461.6,956.5 1466.8,1077.0 1471.5,1115.8 1474.0,1036.6 1477.7,931.6 1480.2,906.8 1482.4,937.8 1484.5,795.0 1487.6,795.0 1490.1,717.3 1492.3,680.1 1494.8,757.7 1496.3,795.0 1497.9,732.9 1500.1,757.7 1501.9,866.4 1505.7,869.5 1514.3,878.8 1515.0,1036.6 1517.5,1108.0 1523.7,1159.3 1525.8,1077.0 1527.4,1077.0 1533.6,1036.6 1536.1,1109.6 1539.8,1090.9 1543.5,1173.2 1546.0,1109.6 1549.1,1109.6 1551.6,947.1 1553.8,962.7 1553.8,1036.6 1560.0,1097.1 1563.1,1008.6 1567.1,897.5 1569.3,962.7 1570.9,1019.5 1574.0,1019.5 1575.5,1134.4 1578.6,1139.1 1581.7,1148.4 1583.9,1067.6 1589.5,1021.1 1591.7,1044.3 1594.2,1092.5 1598.8,1109.6 1601.9,1021.1 1603.5,975.1 1603.5,1018.0 1608.1,972.0 1611.9,922.3 1614.3,931.6 1620.6,903.7 1626.1,1120.4 1628.3,1198.1 1634.5,1104.9 1636.1,854.0 1638.6,869.5 1640.7,844.7 1643.9,770.1 1646.0,776.3 1647.9,826.0 1654.1,1081.6 1656.3,1055.2 1660.3,1050.6 1660.9,931.6 1664.0,953.4 1667.1,962.7 1675.8,813.6 1678.0,838.4 1678.9,1024.2 1681.1,962.7 1682.7,937.8 1685.8,950.2 1688.3,1024.2 1688.9,937.8 1692.0,937.8 1695.1,962.7 1697.6,1077.0 1700.7,1014.8 1704.4,1042.8 1709.1,1072.3 1710.0,1070.8 1712.5,1033.5 1714.7,993.2 1717.8,968.3 1720.9,949.7 1723.0,906.2 1724.9,949.7 1728.0,968.3 1731.1,993.2 1734.2,1024.2 1735.5,1058.4 1737.3,1033.5 1741.1,1046.0 1744.8,1049.1 1748.8,1052.2 1752.9,1042.9 1755.0,993.2 1757.2,915.5 1762.8,924.8 1765.3,993.2 1767.5,1014.9 1769.6,1039.8 1771.5,1064.6 1773.7,1024.2 1775.8,1042.9 1778.9,1058.4 1782.0,1049.1 1784.5,1024.2 1787.0,1005.6 1788.3,1077.0 1790.1,1024.2 1791.4,1114.3 1793.9,1148.4 1796.3,1185.7 1800.1,1198.1 1803.2,1198.1 1806.3,1205.9 1809.4,1164.0 1812.5,1120.5 1815.6,1179.5 1817.1,1188.8 1819.3,1198.1 1821.8,1148.4 1824.9,1117.4 1829.6,1117.4 1834.2,1063.0 1837.3,1073.9 1839.8,1092.5 1842.0,1092.5 1844.2,1148.4 1846.6,1191.9 1849.1,1207.5 1852.2,1173.3 1856.0,1185.7 1859.1,1117.4 1860.6,1042.9 1862.8,1117.4 1865.3,1036.6 1867.8,1033.5 1869.9,1073.9 1872.1,1086.3 1874.0,1070.8 1876.1,1080.1 1877.7,1148.4 1880.2,1101.9 1882.4,1117.4 1885.5,1235.4 1890.1,1207.5 1894.8,1179.5 1897.9,1154.7 1900.1,1151.6 1901.9,1080.1 1904.1,1039.8 1905.7,977.6 1908.8,1002.5 1911.9,1086.3 1915.0,1185.7 1917.5,1117.4 1919.6,1235.4 1923.7,1247.8 1924.5,1264.5 1928.9,1179.5 1931.1,1024.2 1933.6,940.4 1936.1,946.6 1938.3,1024.2 1941.4,1018.0 1943.5,1039.8 1945.4,1055.3 1949.1,1086.3 1952.2,1132.9 1954.7,1160.9 1956.9,1117.4 1960.0,1101.9 1963.1,1033.5 1966.2,1055.3 1969.3,993.2 1971.5,962.1 1974.0,931.1 1978.6,1055.3 1982.7,1073.9 1985.8,1086.3 1988.0,1073.9 1991.1,1052.2 1993.2,1167.1 1996.3,1276.2 2003.1,1320.8 2005.0,1341.2 2010.5,1331.5 2012.8,1270.3 2015.9,1250.9 2018.6,1237.3 2019.0,1235.4 2020.6,1250.9 2022.1,1198.1 2022.5,1198.5 2024.3,1241.6 2024.4,1225.7 2026.8,1241.6 2028.3,1255.8 2029.9,1257.1 2032.2,1245.1 2033.0,1244.7 2036.1,1167.1 2037.6,1210.6 2040.7,1173.3 2043.9,1117.4 2047.0,1101.9 2050.1,1132.9 2053.2,1077.0 2056.3,1095.7 2059.4,1030.4 2062.5,1014.9 2064.7,1129.8 2067.1,1132.9 2069.6,1148.4 2071.8,1173.3 2074.0,1145.3 2076.5,1117.4 2079.6,1092.5 2082.7,1039.8 2086.4,1002.5 2089.5,1039.8 2093.5,1086.3 2095.1,1092.5 2098.2,1179.5 2101.3,1142.2 2103.8,1205.9 2107.5,1086.3 2110.0,1024.2 2114.0,1217.4 2114.9,1256.2 2117.1,1223.6 2120.2,1214.3 2123.3,1110.2 2125.5,1186.3 2129.5,1245.3 2131.1,1226.7 2133.5,1205.0 2136.6,1205.0 2138.8,1173.9 2140.4,1212.7 2146.6,1212.7 2148.1,1192.5 2150.3,1205.0 2153.4,1161.5 2155.9,1127.3 2157.5,1102.5 2159.0,1059.0 2162.1,1071.4 2165.2,1096.3 2165.8,1032.6 2168.9,1038.8 2171.4,1038.8 2173.0,1071.4 2174.5,1114.9 2176.1,1052.8 2177.6,1114.9 2179.2,1155.3 2180.7,1186.3 2183.9,1186.3 2190.1,1189.4 2196.3,1192.5 2197.8,1225.2 2199.4,1178.6 2200.9,1090.1 2204.0,1118.0 2206.2,1149.1 2208.1,1217.4 2210.2,1250.0 2213.4,1229.8 2215.5,1225.2 2218.0,1192.5 2220.5,1201.9 2222.7,1155.3 2224.2,1180.1 2225.8,1192.5 2227.3,1173.9 2230.4,1173.9 2233.5,1173.9 2236.6,1205.0 2239.1,1217.4 2241.3,1205.0 2243.5,1155.3 2246.0,1186.3 2249.1,1201.9 2251.6,1237.6 2253.7,1217.4 2256.8,1217.4 2259.0,1198.8 2260.9,1139.8 2263.0,1093.2 2264.6,1077.6 2266.1,1026.4 2267.7,1062.1 2270.2,1093.2 2272.4,1077.6 2273.9,1121.1 2276.4,1133.5 2278.6,1096.3 2280.1,1124.2 2283.2,1146.0 2286.3,1186.3 2291.9,1237.6 2294.1,1155.3 2295.7,1155.3 2298.8,1152.2 2301.9,1108.7 2303.4,1077.6 2306.5,1055.9 2308.7,1046.6 2311.2,1071.4 2314.3,1083.9 2317.4,1102.5 2320.5,1071.4 2325.2,1074.5 2332.3,1077.6 2336.0,1031.1 2342.2,1031.1 2345.3,1133.5 2348.4,1133.5 2350.9,1136.6 2353.1,1152.2 2354.7,1180.1 2357.1,1139.8 2360.2,1139.8 2367.1,935.4 2370.2,867.1 2372.7,910.6 2374.8,923.0 2376.4,854.7 2378.9,817.4 2381.1,786.3 2383.2,755.3 2385.1,736.6 2386.3,817.4 2387.3,957.1 2390.4,910.6 2393.5,926.1 2396.6,870.2 2398.8,867.1 2401.2,846.9 2402.8,879.5 2404.3,1093.2 2405.0,988.2 2405.9,1130.4 2409.0,1118.0 2412.1,1040.4 2423.0,873.3 2426.1,817.4 2428.6,805.0 2430.7,798.8 2432.3,811.2 2434.8,848.4 2437.0,910.6 2438.5,1093.2 2441.0,1110.2 2443.2,1099.4 2446.3,1093.2 2449.4,1062.1 2455.6,1091.6 2458.7,1031.1 2462.7,1057.5 2466.5,957.1 2469.6,941.6 2472.0,957.1 2475.2,972.7 2477.3,957.1 2479.5,972.7 2485.1,1062.1 2489.8,1031.1 2494.4,1024.8 2497.5,1071.4 2501.7,1022.7 2504.8,951.2 2509.5,954.3 2512.6,957.5 2514.2,1124.2 2516.6,1225.2 2518.8,1155.3 2520.4,1155.3 2521.9,1149.1 2523.5,1121.1 2526.0,1149.1 2528.1,1164.6 2530.3,1198.8 2532.8,1124.2 2535.9,1077.6 2539.0,1077.6 2540.6,1139.8 2542.1,1133.5 2545.2,1133.5 2546.8,1052.8 2548.9,1065.2 2550.8,1083.9 2553.0,976.1 2553.0,1093.2 2554.5,1062.1 2556.1,929.5 2557.6,898.4 2560.1,969.9 2562.3,929.5 2564.5,904.7 2566.3,929.5 2568.5,991.6 2570.1,985.4 2571.6,929.5 2573.8,820.8 2575.7,898.4 2577.8,960.6 2579.4,994.7 2582.5,1071.4 2585.6,1124.2 2588.7,1279.5 2590.2,1346.3 2592.4,1326.1 2594.3,1248.4 2596.5,1155.3 2599.6,1071.4 2602.7,1096.3 2605.8,1116.5 2608.0,1065.2 2610.4,1093.2 2614.2,1153.7 2616.0,1111.8 2618.2,1114.9 2621.3,1093.2 2624.4,1052.8 2625.3,1225.2 2629.1,1220.5 2632.2,1214.3 2638.4,1198.8 2641.5,1155.3 2644.6,1093.2 2647.7,1062.1 2650.8,1038.8 2653.3,1153.7 2655.5,1124.2 2657.6,1214.3 2659.5,1282.6 2661.7,1248.4 2663.9,1217.4 2666.3,1206.5 2668.2,1265.5 2670.1,1301.2 2672.5,1291.9 2675.0,1291.9 2677.5,1206.5 2679.4,1267.1 2681.9,1251.6 2683.4,1248.4 2685.6,1192.5 2688.1,1229.8 2691.2,1206.5 2693.7,1206.5 2695.8,1264.0 2698.9,1217.4 2701.1,1288.8 2703.0,1248.4 2704.2,1229.8 2706.1,1254.7 2708.3,1254.7 2709.8,1186.3 2712.9,1124.2 2716.0,1093.2 2719.1,1170.8 2721.6,1198.8 2723.8,1155.3 2725.3,1090.1 2727.8,1201.9 2729.1,1212.7 2730.9,1102.5 2733.1,1149.1 2735.3,1180.1 2737.8,1245.3 2742.4,1236.0 2744.0,1217.4 2746.5,1124.2 2748.6,1062.1 2751.7,1080.7 2753.9,1192.5 2756.4,1139.8 2758.0,991.6 2758.9,1142.9 2761.1,1093.2 2762.0,960.6 2764.2,957.5 2764.2,1037.3 2768.2,957.5 2772.5,1301.2 2775.0,1217.4 2778.1,1121.1 2779.7,1217.4 2781.9,1248.4 2784.3,1186.3 2785.9,1217.4 2788.1,1366.5 2801.1,1371.1"/>
<polyline stroke="#d62728" points="518.4,709.6 520.9,692.5 525.5,692.5 529.3,869.5 530.2,885.0 533.3,860.2 534.8,827.6 536.4,885.0 538.6,749.9 542.6,770.1 544.8,847.8 547.3,692.5 551.0,712.7 551.9,770.1 553.5,749.9 555.7,942.5 569.0,984.4 569.6,1056.8 572.1,961.1 572.1,1008.6 576.8,961.1 577.7,1095.6 580.2,1008.6 582.4,1077.0 584.5,1021.1 587.6,1212.0 590.1,1212.0 593.2,1134.4 597.0,1268.0 604.7,1268.0 608.8,1021.1 615.6,864.8 618.7,923.9 621.8,788.8 628.9,1019.5 629.6,885.0 635.2,885.0 637.3,731.3 639.8,807.4 642.9,827.6 646.0,827.6 646.6,942.5 650.4,903.7 653.5,885.0 656.0,866.4 657.5,903.7 662.2,1019.5 673.7,846.2 676.1,942.5 678.3,923.9 682.4,1114.2 684.5,1052.1 687.0,1136.0 689.5,1036.6 691.7,827.6 696.3,846.2 697.9,1078.5 700.1,1021.1 706.3,1042.8 706.6,942.5 716.5,1115.8 718.7,1036.6 724.3,864.8 724.3,1033.5 733.0,827.6 736.7,900.6 739.2,906.8 739.8,1019.5 742.3,846.2 747.6,846.2 748.5,885.0 751.6,692.5 755.3,749.9 757.8,653.7 760.0,731.3 764.0,635.0 767.1,931.6 768.4,731.3 769.3,846.2 774.0,712.7 776.1,635.0 780.2,770.1 781.7,731.3 784.8,731.3 786.4,807.4 789.5,770.1 791.7,903.7 795.1,903.7 798.2,885.0 800.4,978.2 803.5,807.4 806.6,692.5 809.7,731.3 811.2,692.5 815.9,712.7 819.0,885.0 820.6,866.4 823.7,885.0 826.8,751.5 829.9,692.5 834.5,558.0 841.7,788.8 844.2,751.5 845.4,653.7 848.5,653.7 857.8,578.2 861.2,443.1 865.6,847.8 867.1,885.0 869.6,692.5 871.8,900.6 874.0,923.9 878.0,635.0 880.2,692.5 882.7,653.7 884.2,673.9 885.8,635.0 888.3,731.3 892.0,770.1 893.5,712.7 896.6,692.5 899.8,692.5 903.8,558.0 906.0,673.9 909.1,653.7 911.6,673.9 913.7,712.7 919.3,461.7 921.8,461.7 922.4,500.6 927.1,500.6 928.0,578.2 929.6,537.8 930.8,540.9 931.1,692.5 933.3,788.8 934.8,770.1 936.4,788.8 938.0,653.7 939.5,782.5 941.1,736.0 942.6,722.0 944.2,829.1 946.6,885.0 948.8,807.4 952.9,770.1 956.0,903.7 958.1,807.4 961.2,770.1 964.3,807.4 967.5,885.0 970.6,903.7 972.1,770.1 973.7,847.8 975.8,807.4 977.7,829.1 978.9,618.0 980.8,673.9 981.4,576.6 983.9,584.4 987.6,519.2 989.2,635.0 990.1,578.2 995.4,469.5 1002.5,346.8 1004.1,438.4 1006.3,869.5 1009.4,931.6 1011.9,961.1 1014.0,827.6 1017.1,827.6 1018.7,807.4 1021.2,770.1 1022.4,866.4 1024.9,788.8 1027.4,807.4 1028.9,751.5 1030.5,827.6 1031.7,673.9 1034.2,652.1 1037.3,616.4 1039.8,635.0 1042.0,731.3 1044.2,692.5 1045.7,692.5 1048.2,731.3 1049.8,558.0 1053.8,616.4 1057.5,250.6 1059.1,250.6 1062.2,385.7 1063.7,367.0 1065.3,443.1 1066.8,616.4 1069.9,602.4 1074.0,422.9 1075.5,422.9 1079.3,714.2 1082.4,885.0 1087.6,1038.1 1090.1,788.8 1093.2,745.3 1096.3,712.7 1100.1,788.8 1101.9,807.4 1104.1,788.8 1106.3,712.7 1108.8,847.8 1111.9,838.4 1115.0,829.1 1117.1,731.3 1118.7,829.1 1121.2,869.5 1122.7,885.0 1125.2,827.6 1127.4,827.6 1129.9,847.8 1131.4,712.7 1133.0,751.5 1134.2,365.5 1139.2,365.5 1141.4,443.1 1142.9,404.3 1143.5,500.6 1150.7,692.5 1152.2,731.3 1156.3,751.5 1157.8,653.7 1160.0,653.7 1161.6,731.3 1164.0,770.1 1166.2,673.9 1169.3,673.9 1170.2,788.8 1173.4,653.7 1175.5,788.8 1178.6,807.4 1181.7,829.1 1183.9,847.8 1185.8,807.4 1188.0,903.7 1194.2,1056.8 1197.3,1056.8 1200.4,1077.0 1201.9,770.1 1205.0,729.8 1208.8,692.5 1211.2,885.0 1214.3,807.4 1218.4,731.3 1220.6,923.9 1223.0,866.4 1226.1,942.5 1228.3,788.8 1231.4,729.8 1234.5,621.1 1236.1,539.4 1239.2,692.5 1241.7,906.8 1243.9,1058.3 1247.0,866.4 1249.4,847.8 1251.6,942.5 1254.7,885.0 1257.2,981.3 1257.8,1038.1 1259.4,885.0 1259.4,996.2 1262.5,987.5 1262.5,1008.6 1267.1,1058.3 1268.7,829.1 1271.8,731.3 1274.9,751.5 1276.5,788.8 1278.0,885.0 1279.6,712.7 1281.1,729.8 1284.2,788.8 1286.4,673.9 1288.3,788.8 1290.4,829.1 1294.5,847.8 1296.6,869.5 1301.3,900.6 1305.0,942.5 1309.1,923.9 1310.0,922.3 1310.0,1058.3 1313.7,788.8 1315.6,903.7 1316.8,826.0 1318.7,903.7 1320.9,770.1 1322.4,767.0 1325.5,714.2 1328.6,673.9 1330.2,770.1 1331.7,869.5 1334.2,885.0 1336.4,829.1 1338.6,903.7 1341.1,847.8 1344.8,729.8 1347.3,635.0 1349.8,729.8 1351.9,807.4 1353.5,770.1 1356.0,653.7 1358.1,714.2 1360.3,807.4 1362.2,866.4 1364.3,847.8 1366.5,863.3 1369.0,731.3 1371.5,866.4 1373.7,885.0 1375.8,916.1 1377.7,942.5 1379.9,807.4 1381.4,788.8 1384.5,847.8 1387.0,857.1 1389.2,916.1 1398.5,1058.3 1400.7,1014.8 1403.2,1005.5 1406.3,885.0 1408.8,900.6 1412.5,944.0 1417.1,1038.1 1419.3,1005.5 1421.8,996.2 1426.5,745.3 1428.6,673.9 1430.5,726.6 1431.7,635.0 1433.6,729.8 1435.2,732.9 1437.3,807.4 1439.8,751.5 1442.3,500.6 1444.2,587.5 1446.0,614.8 1447.6,519.8 1449.1,578.2 1452.2,599.3 1456.0,616.4 1456.9,519.8 1462.2,652.1 1465.3,711.1 1467.8,714.2 1469.0,732.9 1473.0,1095.6 1476.1,776.3 1479.3,695.6 1481.4,673.9 1483.3,689.4 1485.5,652.1 1488.6,614.8 1489.5,485.0 1491.7,426.0 1493.5,308.0 1495.4,367.0 1497.3,328.2 1499.1,328.2 1500.1,385.7 1501.6,367.0 1504.1,745.3 1507.2,829.1 1508.8,838.4 1516.5,1078.5 1521.2,1052.1 1524.3,1033.5 1527.4,916.1 1530.5,900.6 1534.2,749.9 1536.7,866.4 1539.2,846.2 1541.4,962.7 1542.3,1038.1 1550.7,731.3 1555.3,770.1 1560.9,807.4 1563.1,776.3 1565.3,714.2 1566.5,519.8 1569.3,544.0 1572.4,869.5 1574.6,807.4 1577.1,885.0 1579.6,903.7 1582.7,866.4 1584.8,922.3 1586.4,847.8 1589.5,776.3 1592.6,683.2 1595.7,519.8 1600.4,559.6 1601.9,711.1 1604.4,673.9 1607.5,726.6 1609.7,757.7 1611.9,635.0 1614.3,751.5 1616.5,673.9 1619.0,751.5 1620.6,711.1 1623.0,791.9 1625.2,788.8 1627.4,807.4 1629.9,807.4 1633.0,729.8 1636.1,269.2 1637.6,388.8 1642.9,478.8 1647.0,745.3 1648.5,888.1 1651.0,903.7 1653.2,788.8 1656.3,903.7 1659.4,900.6 1661.6,673.9 1664.0,807.4 1667.1,916.1 1670.2,944.0 1673.4,900.6 1676.5,829.1 1679.6,847.8 1682.7,869.5 1684.8,749.9 1687.3,829.1 1690.4,885.0 1694.5,813.6 1696.6,888.1 1699.8,900.6 1702.9,807.4 1705.0,770.1 1708.1,770.1 1710.0,770.2 1712.5,866.5 1713.1,962.1 1716.2,1039.8 1718.7,1095.7 1721.8,1077.0 1724.9,1077.0 1728.0,1018.0 1730.8,980.7 1731.7,1058.4 1734.8,1070.8 1737.3,1153.1 1738.6,1080.1 1741.1,1067.7 1746.6,1042.9 1752.9,1021.1 1755.0,918.6 1758.1,846.3 1760.3,857.1 1761.2,931.1 1762.8,977.6 1768.4,931.1 1769.6,1011.8 1772.1,906.2 1775.2,993.2 1777.7,980.7 1779.9,1036.6 1780.8,1039.8 1783.0,924.8 1787.0,924.8 1789.5,731.4 1791.4,841.6 1794.5,962.1 1798.5,866.5 1803.2,918.6 1809.4,931.1 1815.6,1132.9 1818.7,1117.4 1821.2,1095.7 1821.6,1250.9 1822.4,1250.9 1824.3,1095.7 1825.5,1250.9 1826.5,1250.9 1828.0,1154.7 1829.6,1123.6 1834.2,692.5 1837.3,614.9 1838.9,748.4 1840.7,596.3 1842.0,767.1 1844.2,810.6 1848.2,847.8 1848.2,931.1 1851.3,952.8 1856.0,980.7 1860.6,846.3 1865.3,692.5 1866.8,788.8 1869.0,788.8 1874.6,946.6 1876.1,866.5 1882.4,1117.4 1885.5,1134.5 1888.6,1111.2 1893.2,1086.3 1896.3,1070.8 1899.4,1058.4 1901.9,1018.0 1904.1,977.6 1905.7,931.1 1907.8,788.8 1911.2,1148.4 1915.0,1173.3 1918.7,1077.0 1921.2,1167.1 1924.3,1241.6 1926.8,1288.2 1927.0,1288.8 1930.5,1117.4 1933.0,1039.8 1935.2,1036.6 1936.7,962.1 1939.2,1154.7 1940.4,1230.7 1940.6,1231.5 1942.9,1154.7 1949.1,1308.2 1951.6,1018.0 1955.3,1101.9 1958.4,1111.2 1960.9,1018.0 1963.1,1114.3 1969.3,1136.0 1970.9,993.2 1975.5,866.5 1977.7,770.2 1980.2,810.6 1982.7,1117.4 1984.8,1114.3 1988.0,993.2 1991.1,1002.5 1993.2,1018.0 1995.7,1049.1 1998.8,1086.3 2002.1,1188.8 2003.5,1148.4 2008.9,1327.6 2010.9,1208.2 2011.2,1077.0 2014.3,1154.7 2016.8,1117.4 2019.0,1058.4 2022.1,1058.4 2024.3,1117.4 2027.4,1250.9 2029.9,1148.4 2033.0,993.2 2039.2,1160.9 2042.3,1173.3 2043.9,1117.4 2047.0,993.2 2050.1,962.1 2053.2,1073.9 2054.7,888.2 2057.2,885.1 2060.9,885.1 2064.0,846.3 2067.1,962.1 2070.2,943.5 2073.4,993.2 2076.5,990.1 2078.0,1002.5 2080.2,940.4 2082.7,931.1 2085.8,866.5 2088.9,770.2 2090.4,885.1 2093.5,931.1 2096.6,962.1 2097.6,866.5 2104.4,847.8 2107.5,779.5 2110.0,673.9 2110.9,673.0 2113.0,817.4 2114.0,1192.5 2115.5,1093.2 2120.2,1093.2 2121.7,923.0 2123.3,972.7 2124.8,1031.1 2129.5,1096.3 2131.1,960.2 2132.6,988.2 2136.6,982.0 2138.8,1114.9 2141.0,1046.6 2143.5,1031.1 2149.7,1018.6 2151.2,960.2 2153.4,972.7 2157.5,950.9 2159.6,988.2 2163.7,904.3 2166.8,904.3 2168.9,926.1 2172.0,846.9 2173.9,879.5 2176.1,865.5 2179.2,910.6 2180.1,1031.1 2181.4,1093.2 2183.2,1192.5 2184.5,1130.4 2190.1,1093.2 2194.7,1062.1 2197.8,885.7 2200.9,826.7 2202.5,1031.1 2205.6,885.7 2208.7,1062.1 2211.8,1118.0 2214.3,1133.5 2216.5,972.7 2221.7,904.3 2222.7,1062.1 2223.6,972.7 2224.2,1170.8 2227.3,1173.9 2230.4,1211.2 2232.9,1136.6 2235.1,1173.9 2236.6,1155.3 2239.1,1096.3 2242.2,1096.3 2243.5,1133.5 2246.0,1173.9 2249.1,1211.2 2252.2,1114.9 2255.3,1133.5 2258.4,1096.3 2260.9,1118.0 2264.0,1096.3 2267.1,1133.5 2270.2,1031.1 2270.8,966.5 2273.3,932.3 2274.5,1077.6 2277.0,923.0 2280.1,1031.1 2283.2,1192.5 2284.8,1062.1 2286.3,1037.3 2289.4,1046.6 2292.5,1093.2 2295.7,1139.8 2300.3,1192.5 2301.9,1062.1 2308.1,1031.1 2311.2,1059.0 2314.3,941.6 2316.8,988.2 2318.9,846.9 2321.1,941.6 2332.9,1077.6 2336.0,904.3 2337.6,957.1 2339.1,941.6 2341.6,972.7 2345.3,1118.0 2348.4,1087.0 2350.9,1105.6 2353.1,1018.6 2355.3,1077.6 2357.8,1015.5 2360.2,1077.6 2360.9,867.1 2363.4,972.7 2364.6,941.6 2370.2,1093.2 2374.8,1173.9 2378.0,1124.2 2381.1,1077.6 2387.3,1096.3 2393.5,867.1 2395.0,941.6 2398.1,941.6 2400.6,904.3 2402.8,972.7 2402.8,1059.0 2405.9,1077.6 2409.0,1093.2 2412.1,1037.3 2414.3,1155.3 2418.3,1136.6 2419.9,1114.9 2429.8,924.5 2436.0,1096.3 2439.1,1031.1 2441.6,1062.1 2444.7,1093.2 2447.2,1136.6 2448.4,1212.7 2451.6,1173.9 2455.6,1173.9 2460.9,1096.3 2463.4,1212.7 2466.5,1155.3 2470.2,1114.9 2474.2,1212.7 2478.9,1124.2 2482.6,1057.5 2486.6,1212.7 2490.7,1062.1 2494.4,891.9 2497.5,910.6 2500.2,1062.1 2503.3,1135.1 2506.4,1093.2 2509.5,1071.4 2511.7,1057.5 2513.5,1211.2 2516.6,1211.2 2522.9,1211.2 2525.0,1124.2 2527.2,1031.1 2529.7,1062.1 2531.2,1022.7 2531.2,1130.4 2533.4,1020.2 2535.9,1093.2 2537.5,1212.7 2539.6,1250.0 2541.5,1155.3 2543.7,1152.2 2545.8,1057.5 2547.7,1093.2 2549.9,1153.7 2551.4,1096.3 2553.9,1133.5 2556.1,1093.2 2557.6,1022.7 2558.3,1031.1 2560.7,1020.2 2562.3,1022.7 2563.2,1021.7 2564.5,1062.1 2565.4,1153.7 2568.5,1133.5 2571.6,1173.9 2573.2,1022.7 2573.2,1093.2 2576.3,945.0 2578.8,920.2 2580.9,886.0 2583.1,960.6 2585.6,1062.1 2588.7,1093.2 2591.2,1153.7 2593.4,1173.9 2595.5,1186.3 2598.0,1212.7 2599.6,1062.1 2601.7,1031.1 2604.2,1015.5 2605.8,923.3 2608.0,907.8 2610.4,847.2 2612.9,929.5 2615.1,991.6 2618.2,1022.7 2619.8,1062.1 2622.9,1139.8 2625.3,1212.7 2638.4,1212.7 2640.9,1270.2 2642.1,1155.3 2644.6,1077.6 2647.7,1093.2 2649.3,1133.5 2651.4,1087.0 2653.9,1133.5 2655.5,1096.3 2657.6,1212.7 2660.1,1108.7 2661.7,1077.6 2663.9,1124.2 2666.3,1173.9 2667.9,1192.5 2670.1,1124.2 2672.5,1093.2 2674.1,1077.6 2676.3,1135.1 2678.8,1031.1 2681.9,960.6 2683.4,943.5 2685.6,1022.7 2687.5,982.3 2691.2,982.3 2694.3,1093.2 2697.4,1062.1 2699.9,1040.4 2702.0,1173.9 2703.6,1133.5 2706.7,1155.3 2709.2,1192.5 2711.4,1093.2 2712.3,982.3 2714.5,1007.1 2718.5,1192.5 2720.7,1093.2 2725.3,904.7 2727.8,991.6 2728.4,1062.1 2730.0,979.2 2733.1,1007.1 2737.8,1192.5 2740.2,1139.8 2742.4,1173.9 2744.6,1212.7 2747.1,1055.9 2749.6,1031.1 2751.7,982.3 2753.9,1007.1 2756.4,1093.2 2759.5,1062.1 2761.1,1096.3 2762.6,1040.4 2764.2,1153.7 2768.2,1153.7 2768.8,1307.5 2771.9,1346.3 2775.0,1326.1 2776.6,1279.5 2778.8,1250.0 2781.2,1346.3 2783.7,1327.6 2785.9,1329.2 2788.1,1385.1 2801.1,1385.1"/>
</g>
<rect x="405.0" y="194.4" width="2511.0" height="1247.3999999999999" fill="none" stroke="#000" stroke-width="2"/>
<g stroke="#000" stroke-width="2"><line x1="517.70" y1="1441.8" x2="517.70" y2="1450.55"/><line x1="962.27" y1="1441.8" x2="962.27" y2="1450.55"/><line x1="1408.07" y1="1441.8" x2="1408.07" y2="1450.55"/><line x1="1852.64" y1="1441.8" x2="1852.64" y2="1450.55"/><line x1="2297.21" y1="1441.8" x2="2297.21" y2="1450.55"/><line x1="2741.79" y1="1441.8" x2="2741.79" y2="1450.55"/><line x1="396.25" y1="1385.10" x2="405.0" y2="1385.10"/><line x1="396.25" y1="1192.88" x2="405.0" y2="1192.88"/><line x1="396.25" y1="1000.66" x2="405.0" y2="1000.66"/><line x1="396.25" y1="808.44" x2="405.0" y2="808.44"/><line x1="396.25" y1="616.22" x2="405.0" y2="616.22"/><line x1="396.25" y1="424.00" x2="405.0" y2="424.00"/><line x1="396.25" y1="231.78" x2="405.0" y2="231.78"/></g>
<g font-family="'Liberation Mono', 'Noto Sans CJK SC', monospace" font-size="25" fill="#000"><text x="517.70" y="1476.3" text-anchor="middle" textLength="50" lengthAdjust="spacingAndGlyphs">2019</text><text x="962.27" y="1476.3" text-anchor="middle" textLength="50" lengthAdjust="spacingAndGlyphs">2020</text><text x="1408.07" y="1476.3" text-anchor="middle" textLength="50" lengthAdjust="spacingAndGlyphs">2021</text><text x="1852.64" y="1476.3" text-anchor="middle" textLength="50" lengthAdjust="spacingAndGlyphs">2022</text><text x="2297.21" y="1476.3" text-anchor="middle" textLength="50" lengthAdjust="spacingAndGlyphs">2023</text><text x="2741.79" y="1476.3" text-anchor="middle" textLength="50" lengthAdjust="spacingAndGlyphs">2024</text><text x="387.5" y="1394.00" text-anchor="end" textLength="37.5" lengthAdjust="spacingAndGlyphs">0.0</text><text x="387.5" y="1201.78" text-anchor="end" textLength="37.5" lengthAdjust="spacingAndGlyphs">0.1</text><text x="387.5" y="1009.56" text-anchor="end" textLength="37.5" lengthAdjust="spacingAndGlyphs">0.2</text><text x="387.5" y="817.34" text-anchor="end" textLength="37.5" lengthAdjust="spacingAndGlyphs">0.3</text><text x="387.5" y="625.12" text-anchor="end" textLength="37.5" lengthAdjust="spacingAndGlyphs">0.4</text><text x="387.5" y="432.90" text-anchor="end" textLength="37.5" lengthAdjust="spacingAndGlyphs">0.5</text><text x="387.5" y="240.68" text-anchor="end" textLength="37.5" lengthAdjust="spacingAndGlyphs">0.6</text></g>
<text x="1660.5" y="178.8" text-anchor="middle" font-family="'Liberation Mono', 'Noto Sans CJK SC', monospace" font-size="37.5" textLength="1068.75" lengthAdjust="spacingAndGlyphs" fill="#000">risky index ratio, pct within index: (20190102, 20240219)</text>
<rect x="423.75" y="1208.4" width="472.45000000000005" height="214.64999999999986" rx="7.5" ry="7.5" fill="#fff" fill-opacity="0.8" stroke="#cccccc" stroke-opacity="0.8" stroke-width="2.5"/>
<line x1="438.75" y1="1237.0" x2="513.75" y2="1237.0" stroke="#1f77b4" stroke-width="3.75" stroke-linecap="square"/>
<text x="543.75" y="1248.5" font-family="'Liberation Mono', 'Noto Sans CJK SC', monospace" font-size="37.5" textLength="337.5" lengthAdjust="spacingAndGlyphs" fill="#000">ratio_zz1000: 0.22</text>
<line x1="438.75" y1="1288.2" x2="513.75" y2="1288.2" stroke="#ff7f0e" stroke-width="3.75" stroke-linecap="square"/>
<text x="543.75" y="1299.7" font-family="'Liberation Mono', 'Noto Sans CJK SC', monospace" font-size="37.5" textLength="318.75" lengthAdjust="spacingAndGlyphs" fill="#000">ratio_zz500: 0.24</text>
<line x1="438.75" y1="1339.4" x2="513.75" y2="1339.4" stroke="#2ca02c" stroke-width="3.75" stroke-linecap="square"/>
<text x="543.75" y="1350.9" font-family="'Liberation Mono', 'Noto Sans CJK SC', monospace" font-size="37.5" textLength="318.75" lengthAdjust="spacingAndGlyphs" fill="#000">ratio_hs300: 0.18</text>
<line x1="438.75" y1="1390.6" x2="513.75" y2="1390.6" stroke="#d62728" stroke-width="3.75" stroke-linecap="square"/>
<text x="543.75" y="1402.1" font-family="'Liberation Mono', 'Noto Sans CJK SC', monospace" font-size="37.5" textLength="281.25" lengthAdjust="spacingAndGlyphs" fill="#000">ratio_gei: 0.24</text>
</svg></body></html>
